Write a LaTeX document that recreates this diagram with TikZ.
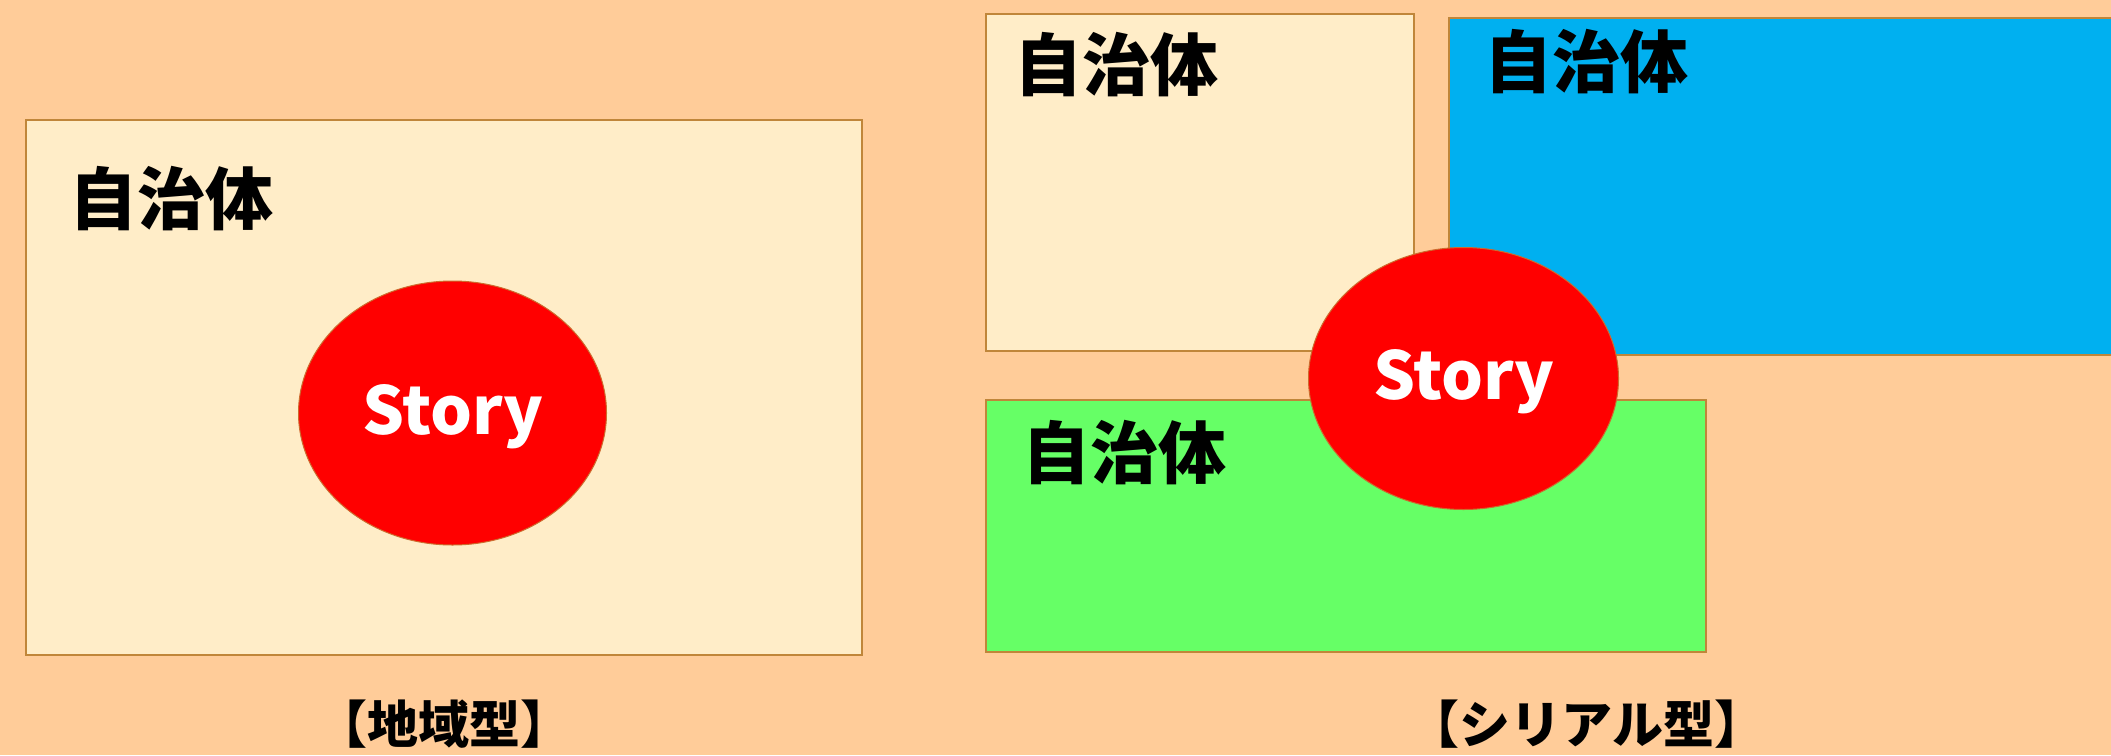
\documentclass[tikz,border=0pt]{standalone}
\usepackage{fontspec}
\newfontfamily\jp{Noto Sans CJK JP}
\definecolor{bgpeach}{HTML}{FFCC99}
\definecolor{cream}{HTML}{FFEDC8}
\definecolor{skyblue}{HTML}{00B0F0}
\definecolor{lgreen}{HTML}{66FF66}
\definecolor{edgebrown}{HTML}{C0863A}
\tikzset{
  region/.style={draw=edgebrown, line width=1.5pt},
  storyball/.style={ellipse, draw=edgebrown!80!red, line width=1pt, fill=red, inner sep=0pt},
  jptext/.style={inner sep=0pt, font=\jp\bfseries\fontsize{68}{70}\selectfont, text=black},
  storytext/.style={inner sep=0pt, anchor=base, font=\jp\bfseries\fontsize{66}{70}\selectfont, text=white},
  caption/.style={inner sep=0pt, font=\jp\bfseries\fontsize{51}{53}\selectfont, text=black}
}
\usetikzlibrary{shapes.geometric}
\begin{document}
\begin{tikzpicture}[x=1pt,y=-1pt]
\useasboundingbox (0,0) rectangle (2111,755);
\clip (0,0) rectangle (2111,755);
\fill[bgpeach] (0,0) rectangle (2111,755);
% left diagram
\draw[region, fill=cream] (26,120) rectangle (862,655);
\path[storyball] (452.5,413) ellipse [x radius=154, y radius=132];
\node[jptext] (jL) at (171,199) {自治体};
\node[storytext] (sL) at (452.5,434) {Story};
\node[caption] (cL) at (444,724) {【地域型】};
% right diagram
\draw[region, fill=cream] (986,14) rectangle (1414,351);
\draw[region, fill=skyblue] (1449,18) rectangle (2120,355);
\draw[region, fill=lgreen] (986,400) rectangle (1706,652);
\path[storyball] (1463.5,378.5) ellipse [x radius=155, y radius=131];
\node[jptext] (jA) at (1116,65) {自治体};
\node[jptext] (jB) at (1586,62) {自治体};
\node[jptext] (jC) at (1124,453) {自治体};
\node[storytext] (sR) at (1464,399) {Story};
\node[caption] (cR) at (1587,724) {【シリアル型】};
\end{tikzpicture}
\end{document}
